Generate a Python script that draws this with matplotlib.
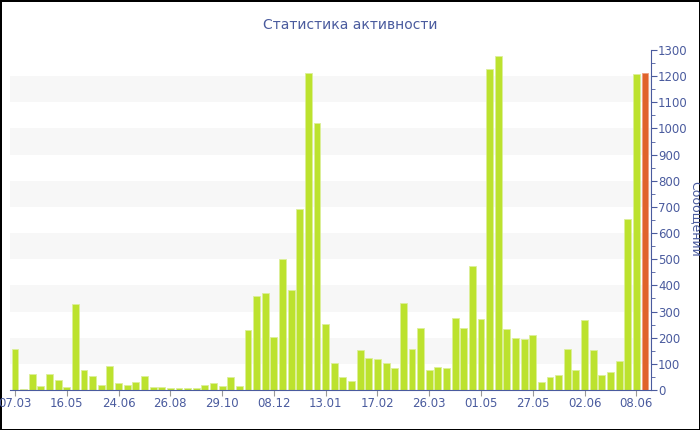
import numpy as np
import matplotlib
matplotlib.use('Agg')
import matplotlib.pyplot as plt

# данные по столбцам (последний - текущий период)
values = [155, 5, 63, 15, 62, 37, 10, 328, 75, 54, 19, 90, 28, 21, 32, 55,
          13, 13, 8, 8, 8, 8, 19, 25, 14, 50, 17, 230, 361, 372, 202, 500,
          381, 693, 1211, 1020, 251, 102, 50, 35, 154, 122, 117, 105, 84, 334,
          158, 238, 75, 88, 83, 277, 238, 474, 273, 1227, 1278, 233, 198, 194,
          209, 31, 51, 57, 157, 75, 266, 152, 56, 69, 110, 655, 1209, 1211]
tick_labels = ['07.03', '16.05', '24.06', '26.08', '29.10', '08.12', '13.01',
               '17.02', '26.03', '01.05', '27.05', '02.06', '08.06']
tick_step = 6

green = '#bce22e'
orange = '#e0632b'
blue = '#4a5b9e'

fig = plt.figure(figsize=(7, 4.3), dpi=100, edgecolor='black', linewidth=2)
ax = fig.add_axes([10/700, 40/430, 641/700, 340/430])

x = np.arange(len(values))
ax.bar(x[:-1], values[:-1], width=0.8, color=green, edgecolor='#dcef9a', linewidth=0.6, zorder=3)
ax.bar(x[-1:], values[-1:], width=0.8, color=orange, edgecolor='#f0a080', linewidth=0.6, zorder=3)

# полосы фона
for lo in range(100, 1300, 200):
    ax.axhspan(lo, lo + 100, color='#f7f7f7', zorder=0, lw=0)

ax.set_xlim(-0.58, 73.7)
ax.set_ylim(0, 1300)

ax.yaxis.tick_right()
ax.set_yticks(range(0, 1301, 100))
ax.set_yticks(range(50, 1300, 100), minor=True)
ax.tick_params(axis='y', which='major', colors=blue, labelsize=8.5, length=4, pad=1)
ax.tick_params(axis='y', which='minor', colors=blue, length=3)

ax.set_xticks(range(0, len(values), tick_step))
ax.set_xticklabels(tick_labels)
ax.tick_params(axis='x', colors='#999999', labelcolor=blue, labelsize=8.5, length=4, pad=1)

for s in ['top', 'left']:
    ax.spines[s].set_visible(False)
ax.spines['right'].set_color(blue)
ax.spines['bottom'].set_color(blue)
ax.spines['bottom'].set_zorder(4)

fig.text(0.5, 0.942, 'Статистика активности', ha='center', va='center', color=blue, fontsize=10)
fig.text(0.994, 0.49, 'Сообщений', rotation=270, ha='center', va='center', color=blue, fontsize=9)

fig.savefig('out.png', dpi=100)
